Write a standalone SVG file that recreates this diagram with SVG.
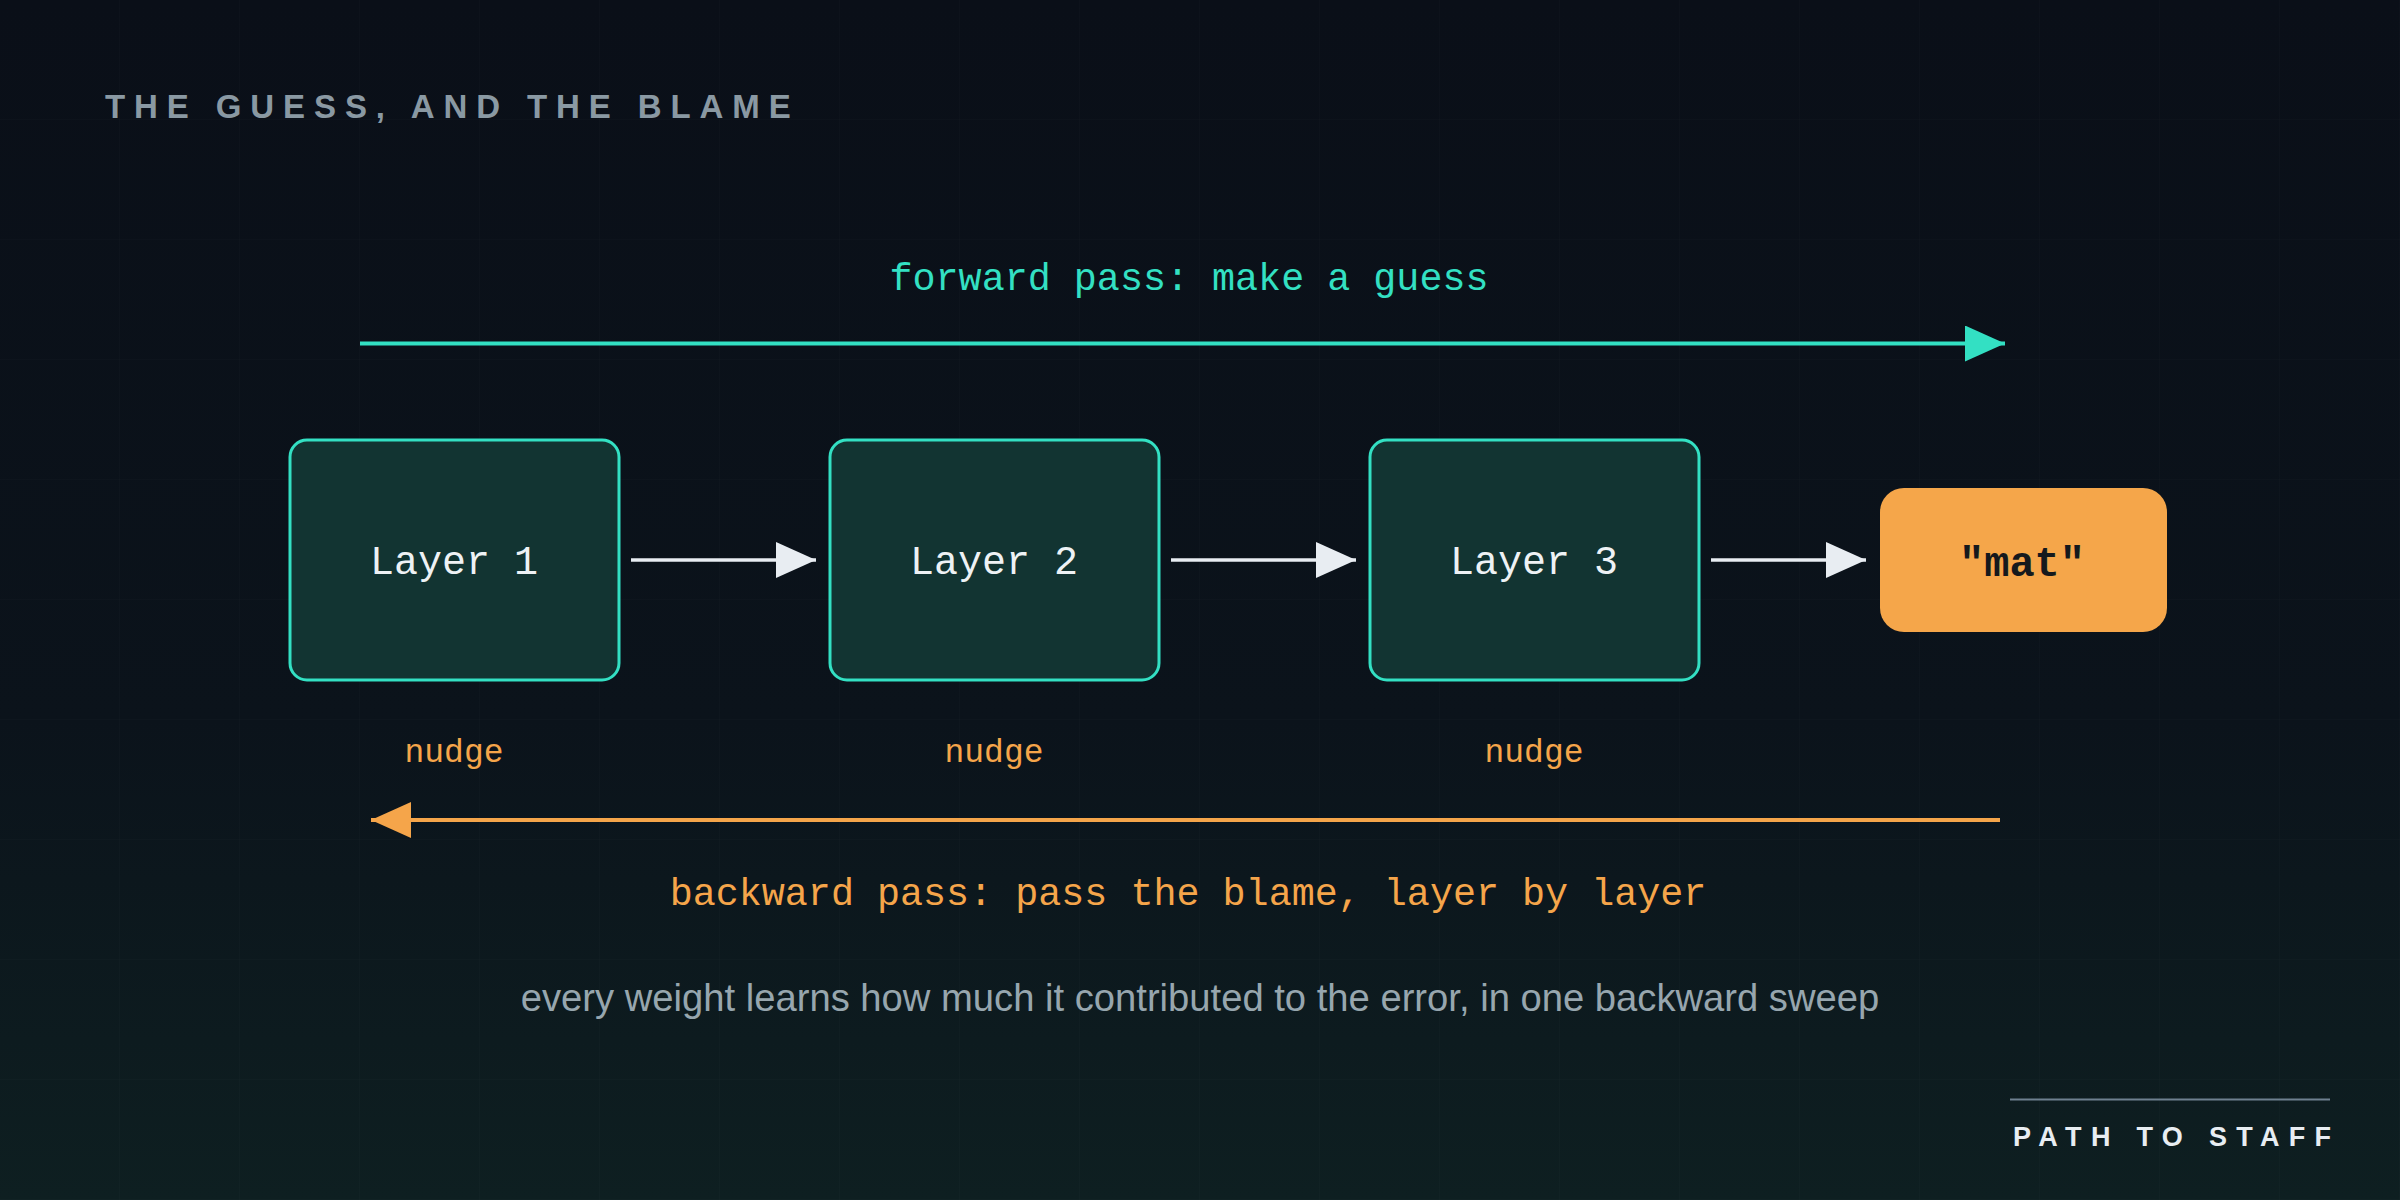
<svg xmlns="http://www.w3.org/2000/svg" width="2400" height="1200" viewBox="0 0 2400 1200">
  <defs>
    <linearGradient id="bg" x1="0" y1="0" x2="0" y2="1">
      <stop offset="0" stop-color="#0a0f18"/>
      <stop offset="0.6" stop-color="#0b131b"/>
      <stop offset="1" stop-color="#0e1f21"/>
    </linearGradient>
    <pattern id="grid" width="120" height="120" patternUnits="userSpaceOnUse">
      <path d="M120 0V120M0 120H120" fill="none" stroke="#ffffff" stroke-opacity="0.025" stroke-width="1"/>
    </pattern>
    <marker id="ahTeal" markerUnits="userSpaceOnUse" markerWidth="40" markerHeight="36" refX="40" refY="18" orient="auto">
      <path d="M0 0L40 18L0 36Z" fill="#33e0c3"/>
    </marker>
    <marker id="ahWhite" markerUnits="userSpaceOnUse" markerWidth="40" markerHeight="36" refX="40" refY="18" orient="auto">
      <path d="M0 0L40 18L0 36Z" fill="#e8edf2"/>
    </marker>
    <marker id="ahOrange" markerUnits="userSpaceOnUse" markerWidth="40" markerHeight="36" refX="40" refY="18" orient="auto">
      <path d="M0 0L40 18L0 36Z" fill="#f5a54a"/>
    </marker>
  </defs>
  <style>
    .mono { font-family: "Liberation Mono", "DejaVu Sans Mono", monospace; }
    .sans { font-family: "Liberation Sans", Arial, sans-serif; }
    .layer rect { fill: #123432; stroke: #33e0c3; stroke-width: 3; }
    .layer text { fill: #eef2f5; font-size: 40px; text-anchor: middle; }
    .nudge { fill: #f5a54a; font-size: 33px; text-anchor: middle; }
    .conn { stroke: #e8edf2; stroke-width: 3.5; fill: none; marker-end: url(#ahWhite); }
  </style>

  <rect width="2400" height="1200" fill="url(#bg)"/>
  <rect width="2400" height="1200" fill="url(#grid)"/>

  <text class="sans" x="105" y="118" font-size="33" font-weight="bold" letter-spacing="8.9" fill="#8a99a3">THE GUESS, AND THE BLAME</text>

  <text class="mono" x="1189" y="290" font-size="38.4" fill="#33e0c3" text-anchor="middle">forward pass: make a guess</text>

  <g id="connectors">
    <line x1="360" y1="343.5" x2="2005" y2="343.5" stroke="#33e0c3" stroke-width="4" marker-end="url(#ahTeal)"/>
    <line class="conn" x1="631" y1="560" x2="816" y2="560"/>
    <line class="conn" x1="1171" y1="560" x2="1356" y2="560"/>
    <line class="conn" x1="1711" y1="560" x2="1866" y2="560"/>
    <line x1="2000" y1="820" x2="371" y2="820" stroke="#f5a54a" stroke-width="4" marker-end="url(#ahOrange)"/>
  </g>

  <g id="layer1" class="layer">
    <rect x="290" y="440" width="329" height="240" rx="17"/>
    <text class="mono" x="454" y="574">Layer 1</text>
  </g>
  <g id="layer2" class="layer">
    <rect x="830" y="440" width="329" height="240" rx="17"/>
    <text class="mono" x="994" y="574">Layer 2</text>
  </g>
  <g id="layer3" class="layer">
    <rect x="1370" y="440" width="329" height="240" rx="17"/>
    <text class="mono" x="1534" y="574">Layer 3</text>
  </g>
  <g id="output">
    <rect x="1880" y="488" width="287" height="144" rx="24" fill="#f5a64a"/>
    <text class="mono" x="2022" y="576" font-size="42" font-weight="bold" fill="#15191d" text-anchor="middle">"mat"</text>
  </g>

  <text class="mono nudge" x="454" y="762">nudge</text>
  <text class="mono nudge" x="994" y="762">nudge</text>
  <text class="mono nudge" x="1534" y="762">nudge</text>

  <text class="mono" x="1188" y="905" font-size="38.4" fill="#f5a54a" text-anchor="middle">backward pass: pass the blame, layer by layer</text>

  <text class="sans" x="1200" y="1011" font-size="38.2" fill="#97a6ae" text-anchor="middle">every weight learns how much it contributed to the error, in one backward sweep</text>

  <line x1="2010" y1="1099.5" x2="2330" y2="1099.5" stroke="#6e8090" stroke-width="2"/>
  <text class="sans" x="2013" y="1146" font-size="27" font-weight="bold" letter-spacing="9.3" fill="#e8edf2">PATH TO STAFF</text>
</svg>
